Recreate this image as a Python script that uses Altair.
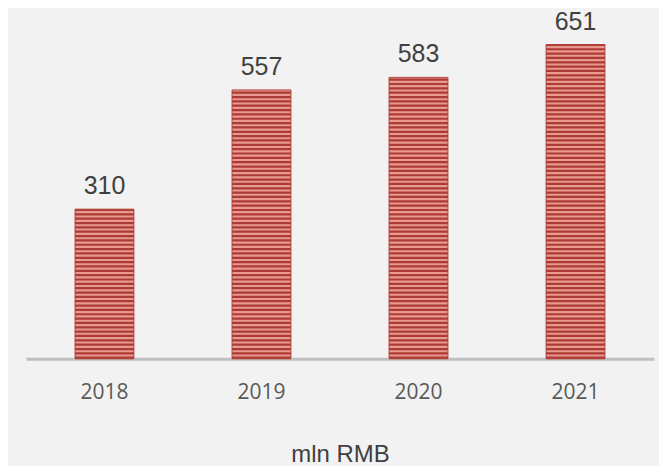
import altair as alt
import pandas as pd

years = ["2018", "2019", "2020", "2021"]
values = [310, 557, 583, 651]

df = pd.DataFrame({"year": years, "value": values})

x_enc = alt.X(
    "year:N",
    sort=years,
    scale=alt.Scale(paddingInner=0.625, paddingOuter=0.3125),
    axis=alt.Axis(
        title="mln RMB",
        labelAngle=0,
        ticks=False,
        domainColor="#bfbfbf",
        domainWidth=3,
        labelFont="Open Sans",
        labelFontSize=21,
        labelColor="#595959",
        labelPadding=23,
        titleFont="Liberation Sans",
        titleFontSize=24,
        titleFontWeight="normal",
        titleColor="#404040",
        titlePadding=40,
    ),
)
y_scale = alt.Scale(domain=[0, 726])

base = alt.Chart(df)

bars = base.mark_bar(color="#e89a90", stroke="#b3463f", strokeWidth=1).encode(
    x=x_enc,
    y=alt.Y("value:Q", scale=y_scale, axis=None),
)

stripes = (
    base.transform_calculate(s="sequence(0, datum.value, 9)")
    .transform_flatten(["s"])
    .transform_calculate(s2="min(datum.s + 4.6, datum.value)")
    .mark_bar(color="#ad3b35")
    .encode(
        x=alt.X("year:N", sort=years),
        y=alt.Y("s:Q", scale=y_scale, axis=None),
        y2="s2:Q",
    )
)

labels = base.mark_text(
    baseline="alphabetic",
    dy=-15,
    font="Liberation Sans",
    fontSize=25,
    color="#404040",
).encode(
    x=alt.X("year:N", sort=years),
    y=alt.Y("value:Q", scale=y_scale, axis=None),
    text="value:Q",
)

chart = (
    alt.layer(bars, stripes, labels)
    .properties(
        width=629,
        height=351,
        padding={"left": 18, "top": 0, "right": 5, "bottom": 5},
        background="#f2f2f2",
    )
    .configure_view(stroke=None)
)

chart.save("out.html", embed_options={"renderer": "svg", "actions": False})
